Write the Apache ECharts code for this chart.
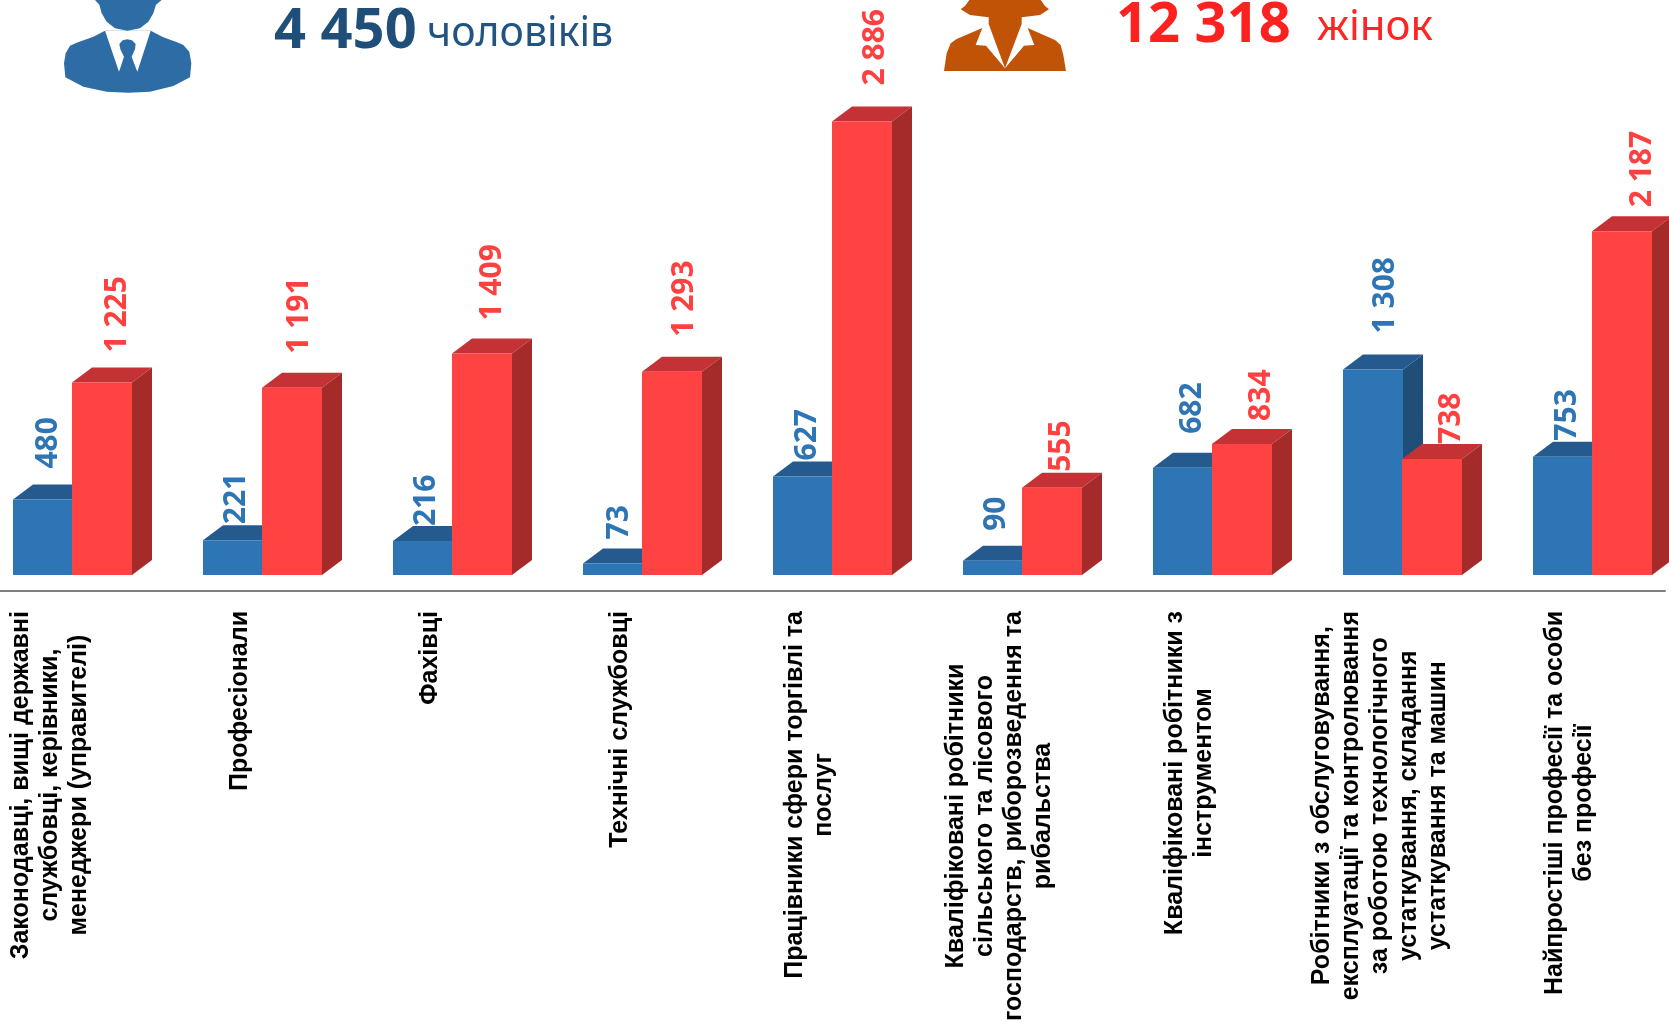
<!DOCTYPE html>
<html>
<head>
<meta charset="utf-8">
<style>html,body{margin:0;padding:0;background:#fff}#main{width:1669px;height:1029px}</style>
<script src="https://cdn.jsdelivr.net/npm/echarts@6/dist/echarts.min.js"></script>
</head>
<body>
<div id="main"></div>
<script>
var categories = [
    'Законодавці, вищі державні\nслужбовці, керівники,\nменеджери (управителі)',
    'Професіонали',
    'Фахівці',
    'Технічні службовці',
    'Працівники сфери торгівлі та\nпослуг',
    'Кваліфіковані робітники\nсільського та лісового\nгосподарств, риборозведення та\nрибальства',
    'Кваліфіковані робітники з\nінструментом',
    'Робітники з обслуговування,\nексплуатації та контролювання\nза роботою технологічного\nустаткування, складання\nустаткування та машин',
    'Найпростіші професії та особи\nбез професії'
];
var menValues = [480, 221, 216, 73, 627, 90, 682, 1308, 753];
var womenValues = [1225, 1191, 1409, 1293, 2886, 555, 834, 738, 2187];

// hand placed value labels in the original: [dx from bar centre, gap above bar]
var menNudge = [[5, 31], [3, 16], [3, 15], [6, 24], [4, 16], [3, 30], [9, 34], [12, 36], [4, 16]];
var womenNudge = [[15, 30], [7, 34], [10, 33], [12, 35], [13, 36], [9, 16], [19, 23], [19, 15], [20, 24]];

var chart = echarts.init(document.getElementById('main'));

var barW = 60, depthX = 20, depthY = 15;

function fmt(v) {
    return String(v).replace(/\B(?=(\d{3})+$)/g, ' ');
}

function makeBar(offset, colors, nudge) {
    return function (params, api) {
        var i = api.value(0);
        var top = api.coord([i, api.value(1)]);
        var base = api.coord([i, 0]);
        var x0 = top[0] + offset, x1 = x0 + barW;
        var y0 = top[1], y1 = base[1];
        return {
            type: 'group',
            children: [
                { type: 'polygon', shape: { points: [[x0, y0], [x0 + depthX, y0 - depthY], [x1 + depthX, y0 - depthY], [x1, y0]] }, style: { fill: colors[1] } },
                { type: 'polygon', shape: { points: [[x1, y0], [x1 + depthX, y0 - depthY], [x1 + depthX, y1 - depthY], [x1, y1]] }, style: { fill: colors[2] } },
                { type: 'rect', shape: { x: x0, y: y0, width: barW, height: y1 - y0 }, style: { fill: colors[0] } },
                {
                    type: 'text',
                    x: x0 + barW / 2 + nudge[i][0],
                    y: y0 - nudge[i][1],
                    rotation: Math.PI / 2,
                    style: {
                        text: fmt(api.value(1)),
                        fill: colors[3],
                        font: 'bold 30px "Noto Sans"',
                        align: 'left',
                        verticalAlign: 'middle'
                    }
                }
            ]
        };
    };
}

function pairs(arr) {
    return arr.map(function (v, i) { return [i, v]; });
}

// icon outlines traced at 3x, origin given by ox
function icon(points, ox, fill) {
    return {
        type: 'polygon',
        shape: { points: points.map(function (p) { return [p[0] / 3 + ox, p[1] / 3]; }) },
        style: { fill: fill }
    };
}

var manHead = [[135, 0], [148, 14], [155, 40], [170, 65], [195, 85], [232, 92], [270, 85], [295, 65], [310, 40], [318, 14], [335, 0]];
var manBody = [[165, 92], [130, 110], [80, 128], [60, 137], [47, 160], [42, 190], [46, 232], [100, 260], [170, 275], [235, 278], [300, 275], [370, 258], [420, 232], [424, 190], [418, 155], [400, 135], [385, 128], [340, 112], [302, 92]];
var manShirt = [[165, 92], [302, 92], [262, 215], [234, 170], [207, 215]];
var manTie = [[208, 132], [218, 121], [232, 118], [246, 121], [257, 132], [255, 148], [245, 170], [262, 216], [207, 216], [222, 170], [211, 148]];
var womanHair = [[118, 0], [105, 18], [92, 28], [120, 45], [176, 52], [176, 72], [225, 205], [275, 72], [275, 52], [330, 45], [357, 28], [345, 18], [332, 0]];
var womanBody = [[42, 213], [50, 160], [62, 130], [80, 117], [157, 84], [137, 135], [168, 137], [225, 205], [282, 137], [313, 135], [293, 84], [375, 120], [392, 135], [400, 165], [408, 213]];

option = {
    animation: false,
    backgroundColor: '#fff',
    grid: { left: -45, top: 25, width: 1710, height: 550, outerBoundsMode: 'none' },
    xAxis: {
        type: 'category',
        data: categories,
        offset: 16,
        axisLine: { onZero: false, lineStyle: { color: '#7f7f7f', width: 2 } },
        axisTick: { show: false },
        axisLabel: {
            interval: 0,
            rotate: 90,
            align: 'right',
            margin: 20,
            formatter: function (v) {
                return v.split('\n').map(function (l) { return '{a|' + l + '}'; }).join('\n');
            },
            rich: {
                a: { align: 'center', fontFamily: 'Liberation Sans', fontWeight: 'bold', fontSize: 25, lineHeight: 29, color: '#000' }
            }
        }
    },
    yAxis: { type: 'value', min: 0, max: 3500, show: false },
    graphic: [
        icon(manBody, 50, '#2e6ca5'),
        icon(manShirt, 50, '#fff'),
        icon(manTie, 50, '#2e6ca5'),
        icon(manHead, 50, '#2e6ca5'),
        icon(womanBody, 930, '#c05306'),
        icon(womanHair, 930, '#c05306'),
        { type: 'text', x: 274, y: 4, style: { text: '4 450', fill: '#1f4e79', font: 'bold 56px "Noto Sans"' } },
        { type: 'text', x: 427, y: 14, style: { text: 'чоловіків', fill: '#215480', font: '41px "Noto Sans"' } },
        { type: 'text', x: 1116, y: -2, style: { text: '12 318', fill: '#ff2020', font: 'bold 56px "Noto Sans"' } },
        { type: 'text', x: 1317, y: 7, style: { text: 'жінок', fill: '#ff2525', font: '42px "Noto Sans"' } }
    ],
    series: [
        {
            type: 'custom',
            clip: false,
            encode: { x: 0, y: 1 },
            renderItem: makeBar(-37, ['#2e75b6', '#255a8f', '#1f4e79', '#2e75b6'], menNudge),
            data: pairs(menValues)
        },
        {
            type: 'custom',
            clip: false,
            encode: { x: 0, y: 1 },
            renderItem: makeBar(22, ['#ff4343', '#c43235', '#a52a2a', '#ff4040'], womenNudge),
            data: pairs(womenValues)
        }
    ]
};
chart.setOption(option);
</script>
</body>
</html>
